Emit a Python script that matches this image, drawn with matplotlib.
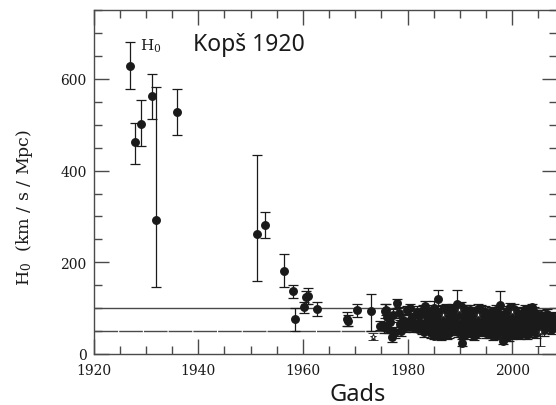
import matplotlib
matplotlib.use("Agg")
import matplotlib.pyplot as plt
from matplotlib.ticker import MultipleLocator

# early measurements (year, H0, lower err, upper err)
early_year = [1927.0, 1927.9, 1929.0, 1931.2, 1932.0, 1936.0]
early_h = [629, 463, 502, 562, 292, 527]
early_lo = [50, 48, 48, 50, 146, 49]
early_hi = [51, 40, 53, 49, 291, 51]

mid_year = [1951.2, 1952.8, 1956.4, 1958.2, 1958.5, 1960.3, 1960.5, 1961.0, 1962.6,
            1968.4, 1968.7, 1970.3, 1973.0, 1975.7]
mid_h = [262, 282, 182, 137, 76, 102, 124, 127, 98, 76, 73, 95, 94, 94]
mid_lo = [102, 28, 35, 14, 25, 12, 14, 18, 15, 16, 12, 15, 44, 15]
mid_hi = [171, 28, 35, 14, 24, 12, 14, 18, 15, 16, 12, 15, 37, 15]

# dense modern cluster
dense_year = [
    1974.8, 1975.4, 1975.8, 1976.2, 1976.6, 1977.1, 1977.3, 1977.6, 1978.0, 1978.3,
    1978.6, 1979.2, 1979.5, 1979.8, 1980.2, 1980.5, 1980.8, 1981.1, 1981.5, 1982.0,
    1982.4, 1982.7, 1983.0, 1983.3, 1983.6,
    1984.0, 1984.2, 1984.5, 1984.8, 1985.0, 1985.3, 1985.6, 1985.9, 1986.0, 1986.2,
    1986.4, 1986.7, 1987.0, 1987.2, 1987.5, 1987.8, 1988.0, 1988.3, 1988.5, 1988.7,
    1989.0, 1989.2, 1989.4, 1989.7, 1990.0, 1990.3, 1990.5, 1990.8, 1991.0, 1991.3,
    1991.6, 1991.9, 1992.1, 1992.4, 1992.7, 1993.0, 1993.2, 1993.5, 1993.8, 1994.0,
    1994.3, 1994.6, 1994.9, 1995.2, 1995.5, 1995.8, 1996.0, 1996.3, 1996.6, 1996.9,
    1997.2, 1997.5, 1997.7, 1998.0, 1998.3, 1998.6, 1998.9, 1999.1, 1999.4, 1999.6,
    1999.9, 2000.2, 2000.4, 2000.7, 2001.0, 2001.3, 2001.5, 2001.8, 2002.1, 2002.4,
    2002.7, 2002.9, 2003.2, 2003.5, 2003.7, 2004.0, 2004.3, 2004.6,
    2005.0, 2005.3, 2005.6, 2005.9, 2006.2, 2006.5, 2006.8, 2007.1, 2007.4, 2007.7,
    2008.0, 2008.3,
    1976.0, 1978.8, 1980.0, 1981.8, 1982.2,
    1983.2, 1983.8, 1984.3, 1984.6, 1985.1, 1985.4, 1985.8, 1986.1, 1986.5, 1986.9,
    1987.3, 1987.6, 1988.1, 1988.4, 1988.8, 1989.1, 1989.5, 1989.9, 1990.2, 1990.6,
    1990.9, 1991.2, 1991.5, 1991.8, 1992.0, 1992.3, 1992.6, 1992.9, 1993.1, 1993.4,
    1993.7, 1994.1, 1994.4, 1994.8, 1995.0, 1995.3, 1995.7, 1996.1, 1996.4, 1996.8,
    1997.0, 1997.3, 1997.6, 1997.9, 1998.2, 1998.5, 1998.8, 1999.0, 1999.3, 1999.7,
    2000.0, 2000.3, 2000.6, 2000.9, 2001.2, 2001.6, 2001.9, 2002.2, 2002.5, 2002.8,
    2003.0, 2003.3, 2003.6, 2003.9, 2004.2, 2004.5, 2004.8, 2005.1, 2005.5, 2005.8,
    2006.0, 2006.4, 2006.7, 2007.0, 2007.3, 2007.6, 2007.9, 2008.2,
]
dense_h = [
    62, 58, 96, 55, 70, 36, 84, 47, 111, 90,
    65, 75, 58, 95, 72, 100, 80, 58, 66, 55,
    85, 54, 95, 105, 70,
    60, 88, 45, 75, 100, 55, 84, 120, 68, 62,
    40, 95, 78, 52, 91, 66, 45, 85, 100, 54,
    72, 62, 109, 48, 91, 25, 70, 58, 80, 45,
    51, 95, 65, 75, 40, 88, 58, 70, 50, 96,
    62, 78, 45, 85, 68, 55, 92, 40, 74, 60,
    82, 50, 107, 66, 29, 88, 38, 72, 58, 102,
    45, 80, 65, 52, 90, 70, 42, 60, 84, 74,
    55, 95, 66, 48, 102, 78, 60, 70,
    85, 62, 74, 55, 80, 68, 60, 76, 66, 72,
    64, 70,
    80, 50, 62, 92, 70,
    48, 82, 68, 95, 40, 72, 58, 90, 50, 70,
    100, 42, 64, 76, 92, 52, 82, 62, 104, 44,
    68, 96, 62, 78, 48, 90, 58, 72, 44, 98,
    64, 80, 52, 92, 58, 74, 44, 82, 62, 96,
    42, 70, 88, 56, 76, 46, 62, 94, 40, 78,
    60, 98, 44, 72, 56, 88, 48, 64, 96, 42,
    80, 58, 88, 52, 92, 46, 62, 72, 86, 64,
    52, 74, 88, 58, 82, 54, 78, 60,
]
dense_err = [
    10, 12, 12, 10, 14, 10, 14, 12, 10, 12,
    10, 12, 10, 10, 12, 10, 8, 10, 12, 8,
    10, 10, 12, 10, 12,
    12, 10, 10, 12, 15, 10, 14, 20, 12, 10,
    10, 12, 15, 10, 12, 12, 10, 15, 10, 12,
    12, 10, 30, 10, 12, 8, 12, 10, 15, 12,
    10, 12, 14, 10, 10, 12, 10, 12, 10, 10,
    12, 14, 10, 12, 10, 12, 10, 10, 12, 10,
    12, 12, 30, 10, 8, 12, 10, 12, 10, 10,
    12, 10, 12, 10, 12, 10, 10, 12, 10, 12,
    10, 10, 12, 10, 8, 12, 10, 12,
    10, 10, 12, 10, 10, 12, 10, 10, 12, 10,
    10, 10,
    12, 10, 10, 12, 10,
    10, 12, 10, 12, 8, 12, 10, 14, 10, 12,
    10, 10, 12, 12, 10, 10, 14, 10, 10, 10,
    12, 10, 12, 10, 10, 12, 10, 12, 10, 10,
    12, 10, 10, 12, 10, 12, 10, 12, 10, 10,
    10, 12, 10, 12, 10, 10, 12, 10, 12, 10,
    12, 10, 10, 12, 10, 12, 10, 12, 10, 10,
    12, 10, 12, 10, 10, 12, 10, 12, 10, 10,
    12, 10, 10, 12, 10, 10, 12, 10,
]

# open stars
star_year = [1973.3, 1986.8, 1989.8, 1993.4, 2000.0, 2005.3]
star_h = [38, 86, 96, 84, 92, 47]
star_lo = [8, 6, 6, 6, 6, 29]
star_hi = [8, 6, 6, 6, 6, 10]

ref_lines = [100, 50]

ink = "#1a1a1a"
axc = "#4a4a4a"

fig = plt.figure(figsize=(5.56, 4.06), dpi=100)
ax = fig.add_axes([93.5 / 556, 51 / 406, 463.3 / 556, 343.9 / 406])

ax.axhline(ref_lines[0], color=axc, lw=1.0, zorder=1)
ax.axhline(ref_lines[1], color=axc, lw=1.0, dashes=(17, 0.8), zorder=1)

style = dict(fmt="o", color=ink, ms=5.4, elinewidth=0.9, capsize=3.6, capthick=0.9)
ax.errorbar(early_year, early_h, yerr=[early_lo, early_hi], **style)
ax.errorbar(mid_year, mid_h, yerr=[mid_lo, mid_hi], **style)
ax.errorbar(dense_year, dense_h, yerr=dense_err, **style)
ax.errorbar(star_year, star_h, yerr=[star_lo, star_hi], fmt="*", ms=5, mfc="white",
            mec=ink, mew=0.6, ecolor=ink, elinewidth=0.9, capsize=3.6, capthick=0.9,
            zorder=4)

ax.set_xlim(1920, 2008.5)
ax.set_ylim(0, 750)
ax.xaxis.set_major_locator(MultipleLocator(20))
ax.xaxis.set_minor_locator(MultipleLocator(5))
ax.yaxis.set_major_locator(MultipleLocator(200))
ax.yaxis.set_minor_locator(MultipleLocator(50))
ax.tick_params(which="both", direction="in", top=True, right=True, color=axc, width=1.0,
               labelsize=10, labelcolor=ink, labelfontfamily="DejaVu Serif")
ax.tick_params(which="major", length=10.5, pad=5)
ax.tick_params(axis="x", which="major", pad=6.5)
ax.tick_params(which="minor", length=5.8)
for s in ax.spines.values():
    s.set_color(axc)
    s.set_linewidth(1.0)

ax.text(1928.9, 674, r"H$_0$", fontsize=11, family="DejaVu Serif", color=ink,
        va="center", ha="left", math_fontfamily="dejavuserif")
ax.text(1939.0, 677, "Kopš 1920", fontsize=16.5, family="Noto Sans", color=ink,
        va="center", ha="left")

fig.text(25 / 556, 1 - 207.5 / 406, r"H$_0$  (km / s / Mpc)", rotation=90, fontsize=12.5,
         family="DejaVu Serif", math_fontfamily="dejavuserif", color=ink,
         ha="center", va="center")
fig.text(358 / 556, 1 - 395 / 406, "Gads", fontsize=17, family="Noto Sans", color=ink,
         ha="center", va="center")

fig.savefig("out.png", dpi=100)
